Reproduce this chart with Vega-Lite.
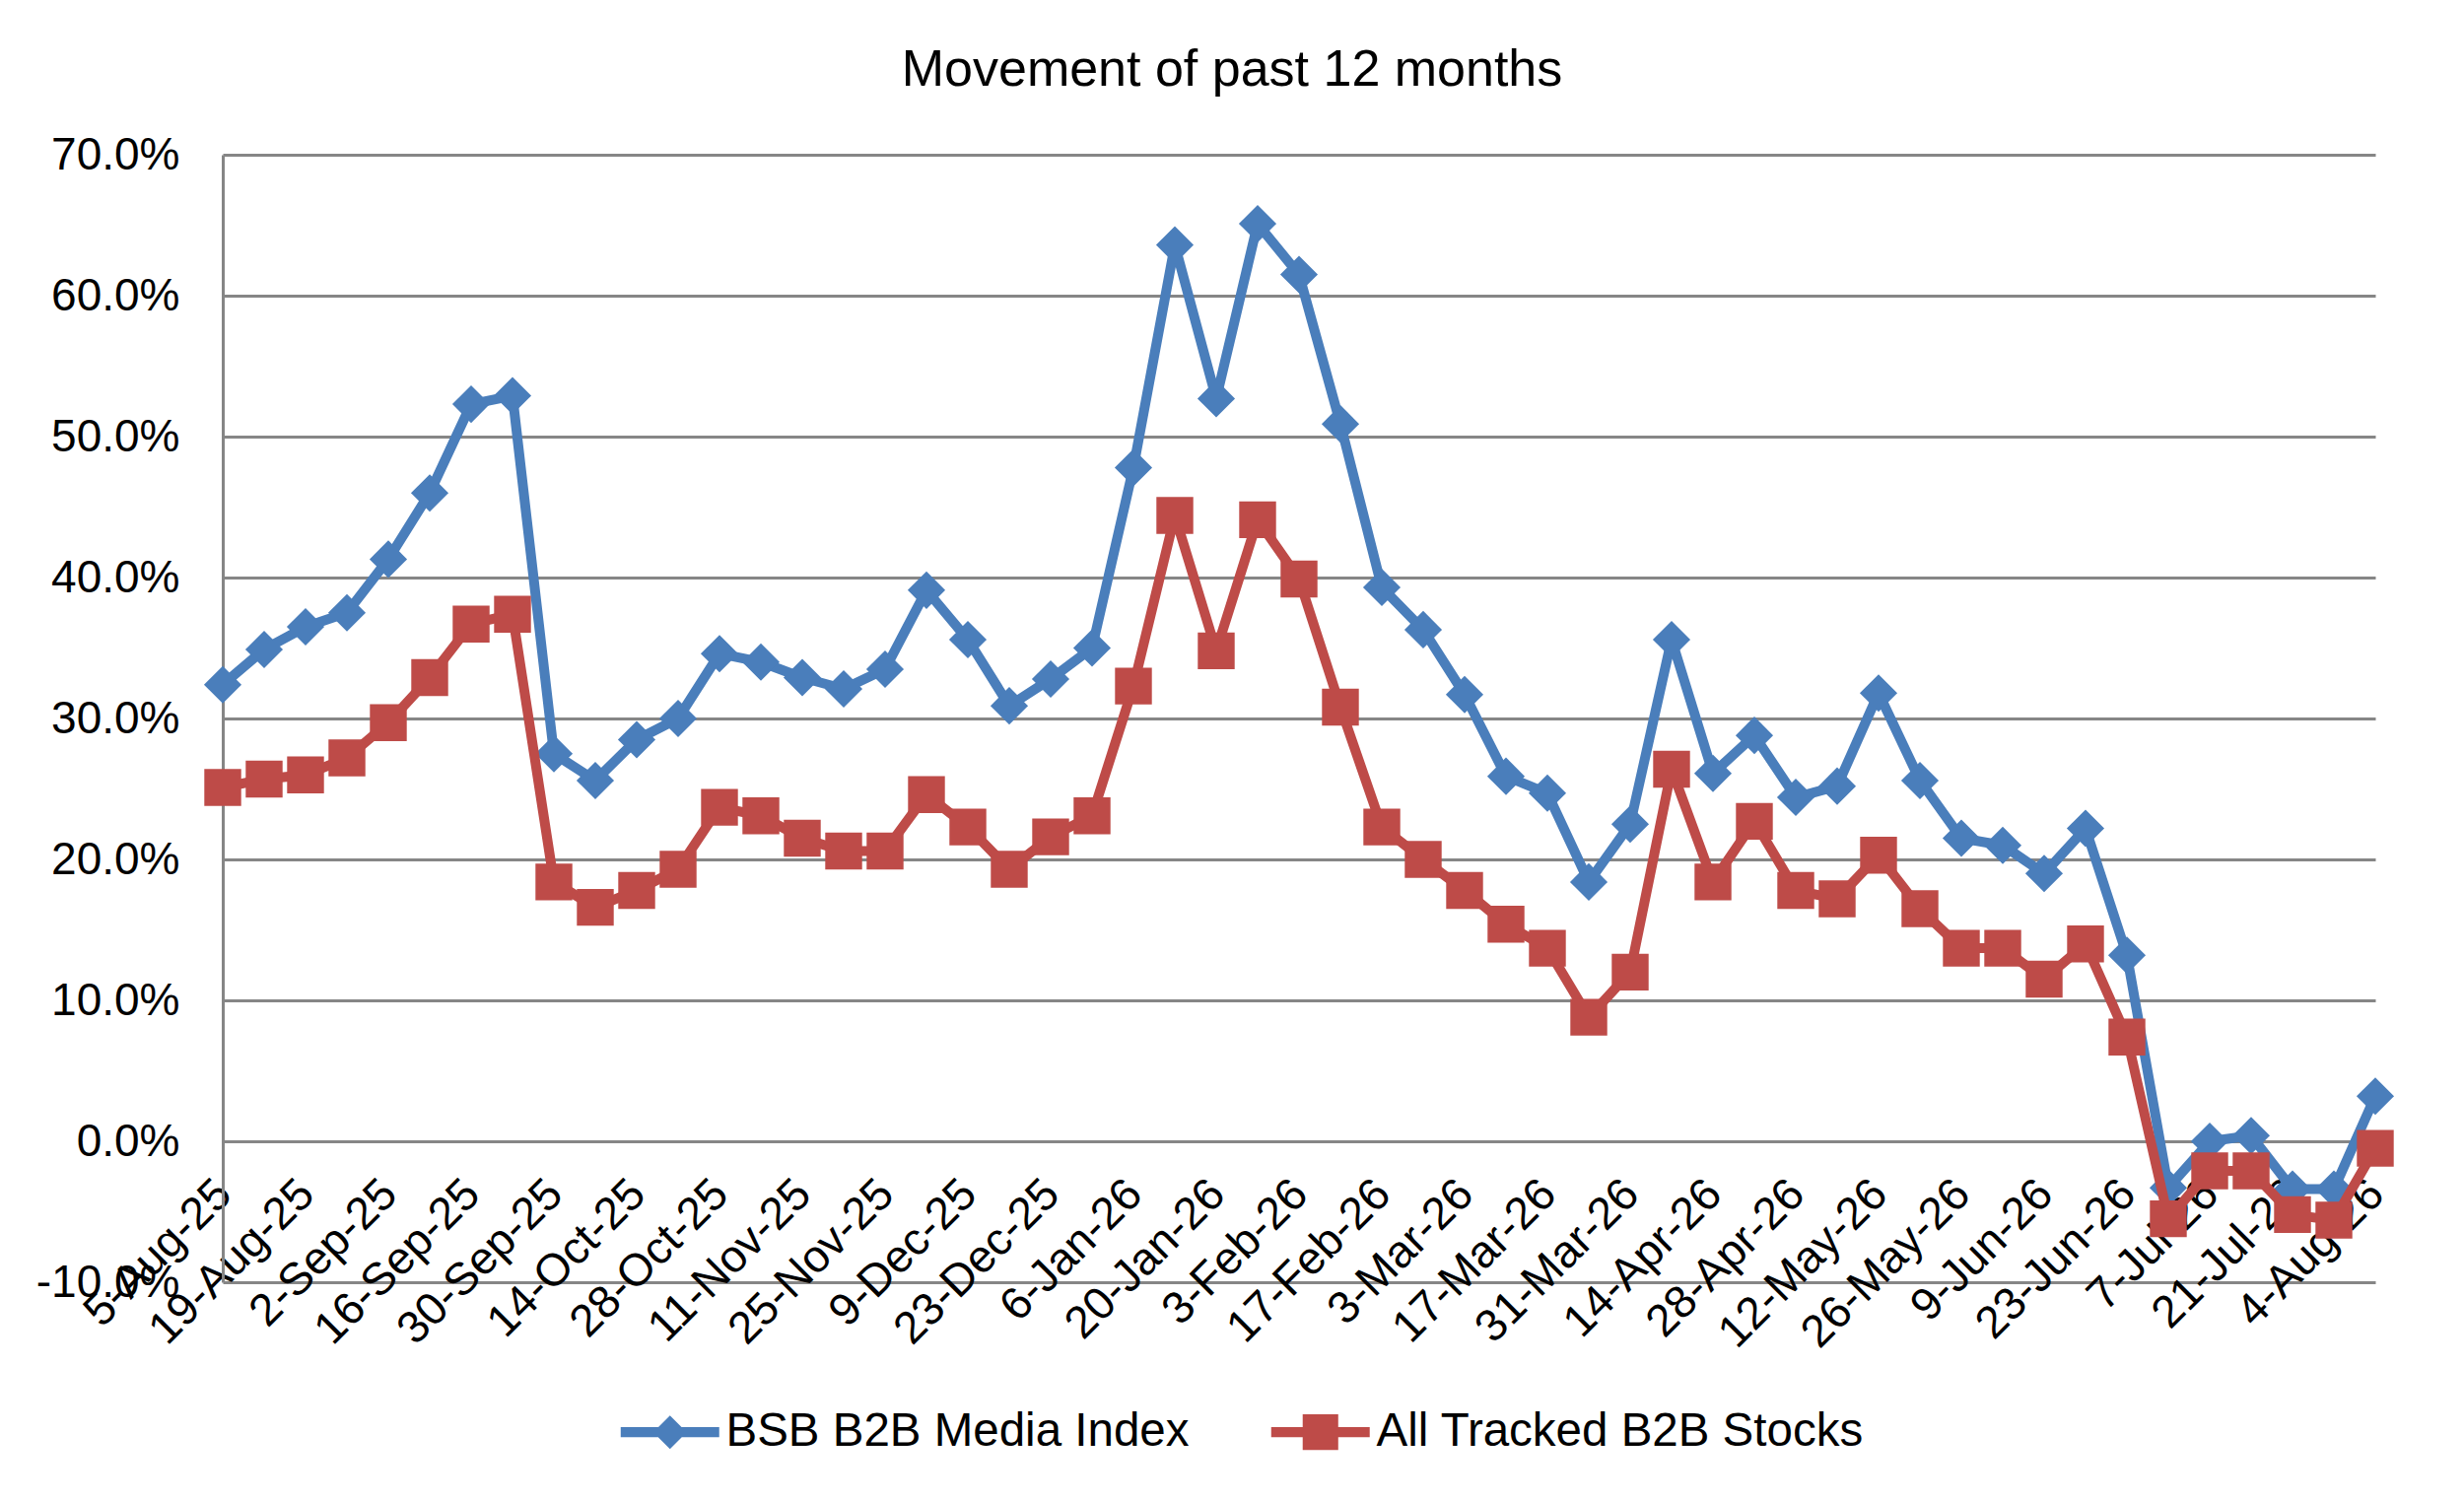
{
  "$schema": "https://vega.github.io/schema/vega-lite/v6.json",
  "width": 2184,
  "height": 1144,
  "autosize": "none",
  "padding": {"left": 226, "top": 157, "right": 90, "bottom": 223},
  "background": "white",
  "config": {
    "view": {"stroke": null},
    "font": "Liberation Sans",
    "text": {"font": "Liberation Sans"}
  },
  "title": {
    "text": "Movement of past 12 months",
    "font": "Liberation Sans",
    "fontSize": 52,
    "fontWeight": "normal",
    "color": "#000000",
    "anchor": "middle",
    "frame": "group",
    "baseline": "alphabetic",
    "offset": 47,
    "dx": -68,
    "dy": 52
  },
  "data": {
    "values": [
      {"date": "5-Aug-25", "BSB B2B Media Index": 0.324, "All Tracked B2B Stocks": 0.251},
      {"date": "12-Aug-25", "BSB B2B Media Index": 0.349, "All Tracked B2B Stocks": 0.257},
      {"date": "19-Aug-25", "BSB B2B Media Index": 0.365, "All Tracked B2B Stocks": 0.260},
      {"date": "26-Aug-25", "BSB B2B Media Index": 0.375, "All Tracked B2B Stocks": 0.272},
      {"date": "2-Sep-25", "BSB B2B Media Index": 0.413, "All Tracked B2B Stocks": 0.297},
      {"date": "9-Sep-25", "BSB B2B Media Index": 0.460, "All Tracked B2B Stocks": 0.329},
      {"date": "16-Sep-25", "BSB B2B Media Index": 0.523, "All Tracked B2B Stocks": 0.367},
      {"date": "23-Sep-25", "BSB B2B Media Index": 0.529, "All Tracked B2B Stocks": 0.374},
      {"date": "30-Sep-25", "BSB B2B Media Index": 0.275, "All Tracked B2B Stocks": 0.184},
      {"date": "7-Oct-25", "BSB B2B Media Index": 0.256, "All Tracked B2B Stocks": 0.166},
      {"date": "14-Oct-25", "BSB B2B Media Index": 0.285, "All Tracked B2B Stocks": 0.178},
      {"date": "21-Oct-25", "BSB B2B Media Index": 0.300, "All Tracked B2B Stocks": 0.193},
      {"date": "28-Oct-25", "BSB B2B Media Index": 0.346, "All Tracked B2B Stocks": 0.237},
      {"date": "4-Nov-25", "BSB B2B Media Index": 0.340, "All Tracked B2B Stocks": 0.231},
      {"date": "11-Nov-25", "BSB B2B Media Index": 0.329, "All Tracked B2B Stocks": 0.215},
      {"date": "18-Nov-25", "BSB B2B Media Index": 0.321, "All Tracked B2B Stocks": 0.206},
      {"date": "25-Nov-25", "BSB B2B Media Index": 0.335, "All Tracked B2B Stocks": 0.206},
      {"date": "2-Dec-25", "BSB B2B Media Index": 0.391, "All Tracked B2B Stocks": 0.246},
      {"date": "9-Dec-25", "BSB B2B Media Index": 0.356, "All Tracked B2B Stocks": 0.223},
      {"date": "16-Dec-25", "BSB B2B Media Index": 0.309, "All Tracked B2B Stocks": 0.193},
      {"date": "23-Dec-25", "BSB B2B Media Index": 0.328, "All Tracked B2B Stocks": 0.216},
      {"date": "30-Dec-25", "BSB B2B Media Index": 0.350, "All Tracked B2B Stocks": 0.231},
      {"date": "6-Jan-26", "BSB B2B Media Index": 0.478, "All Tracked B2B Stocks": 0.323},
      {"date": "13-Jan-26", "BSB B2B Media Index": 0.636, "All Tracked B2B Stocks": 0.444},
      {"date": "20-Jan-26", "BSB B2B Media Index": 0.527, "All Tracked B2B Stocks": 0.348},
      {"date": "27-Jan-26", "BSB B2B Media Index": 0.651, "All Tracked B2B Stocks": 0.441},
      {"date": "3-Feb-26", "BSB B2B Media Index": 0.615, "All Tracked B2B Stocks": 0.399},
      {"date": "10-Feb-26", "BSB B2B Media Index": 0.509, "All Tracked B2B Stocks": 0.308},
      {"date": "17-Feb-26", "BSB B2B Media Index": 0.393, "All Tracked B2B Stocks": 0.223},
      {"date": "24-Feb-26", "BSB B2B Media Index": 0.363, "All Tracked B2B Stocks": 0.200},
      {"date": "3-Mar-26", "BSB B2B Media Index": 0.317, "All Tracked B2B Stocks": 0.178},
      {"date": "10-Mar-26", "BSB B2B Media Index": 0.259, "All Tracked B2B Stocks": 0.154},
      {"date": "17-Mar-26", "BSB B2B Media Index": 0.247, "All Tracked B2B Stocks": 0.137},
      {"date": "24-Mar-26", "BSB B2B Media Index": 0.184, "All Tracked B2B Stocks": 0.088},
      {"date": "31-Mar-26", "BSB B2B Media Index": 0.225, "All Tracked B2B Stocks": 0.120},
      {"date": "7-Apr-26", "BSB B2B Media Index": 0.356, "All Tracked B2B Stocks": 0.264},
      {"date": "14-Apr-26", "BSB B2B Media Index": 0.261, "All Tracked B2B Stocks": 0.184},
      {"date": "21-Apr-26", "BSB B2B Media Index": 0.288, "All Tracked B2B Stocks": 0.227},
      {"date": "28-Apr-26", "BSB B2B Media Index": 0.244, "All Tracked B2B Stocks": 0.178},
      {"date": "5-May-26", "BSB B2B Media Index": 0.252, "All Tracked B2B Stocks": 0.172},
      {"date": "12-May-26", "BSB B2B Media Index": 0.318, "All Tracked B2B Stocks": 0.203},
      {"date": "19-May-26", "BSB B2B Media Index": 0.256, "All Tracked B2B Stocks": 0.165},
      {"date": "26-May-26", "BSB B2B Media Index": 0.215, "All Tracked B2B Stocks": 0.137},
      {"date": "2-Jun-26", "BSB B2B Media Index": 0.210, "All Tracked B2B Stocks": 0.137},
      {"date": "9-Jun-26", "BSB B2B Media Index": 0.190, "All Tracked B2B Stocks": 0.115},
      {"date": "16-Jun-26", "BSB B2B Media Index": 0.222, "All Tracked B2B Stocks": 0.140},
      {"date": "23-Jun-26", "BSB B2B Media Index": 0.132, "All Tracked B2B Stocks": 0.074},
      {"date": "30-Jun-26", "BSB B2B Media Index": -0.033, "All Tracked B2B Stocks": -0.055},
      {"date": "7-Jul-26", "BSB B2B Media Index": 0.000, "All Tracked B2B Stocks": -0.021},
      {"date": "14-Jul-26", "BSB B2B Media Index": 0.004, "All Tracked B2B Stocks": -0.021},
      {"date": "21-Jul-26", "BSB B2B Media Index": -0.034, "All Tracked B2B Stocks": -0.052},
      {"date": "28-Jul-26", "BSB B2B Media Index": -0.034, "All Tracked B2B Stocks": -0.056},
      {"date": "4-Aug-26", "BSB B2B Media Index": 0.032, "All Tracked B2B Stocks": -0.005}
    ]
  },
  "transform": [
    {"fold": ["BSB B2B Media Index", "All Tracked B2B Stocks"], "as": ["series", "value"]}
  ],
  "encoding": {
    "x": {
      "field": "date",
      "type": "ordinal",
      "scale": {
        "type": "point",
        "padding": 0,
        "domain": ["5-Aug-25","12-Aug-25","19-Aug-25","26-Aug-25","2-Sep-25","9-Sep-25","16-Sep-25","23-Sep-25","30-Sep-25","7-Oct-25","14-Oct-25","21-Oct-25","28-Oct-25","4-Nov-25","11-Nov-25","18-Nov-25","25-Nov-25","2-Dec-25","9-Dec-25","16-Dec-25","23-Dec-25","30-Dec-25","6-Jan-26","13-Jan-26","20-Jan-26","27-Jan-26","3-Feb-26","10-Feb-26","17-Feb-26","24-Feb-26","3-Mar-26","10-Mar-26","17-Mar-26","24-Mar-26","31-Mar-26","7-Apr-26","14-Apr-26","21-Apr-26","28-Apr-26","5-May-26","12-May-26","19-May-26","26-May-26","2-Jun-26","9-Jun-26","16-Jun-26","23-Jun-26","30-Jun-26","7-Jul-26","14-Jul-26","21-Jul-26","28-Jul-26","4-Aug-26"]
      },
      "axis": {
        "title": null,
        "values": ["5-Aug-25","19-Aug-25","2-Sep-25","16-Sep-25","30-Sep-25","14-Oct-25","28-Oct-25","11-Nov-25","25-Nov-25","9-Dec-25","23-Dec-25","6-Jan-26","20-Jan-26","3-Feb-26","17-Feb-26","3-Mar-26","17-Mar-26","31-Mar-26","14-Apr-26","28-Apr-26","12-May-26","26-May-26","9-Jun-26","23-Jun-26","7-Jul-26","21-Jul-26","4-Aug-26"],
        "offset": -143,
        "domain": false,
        "ticks": false,
        "grid": false,
        "labelAngle": -45,
        "labelAlign": "right",
        "labelBaseline": "middle",
        "labelPadding": 46,
        "labelOffset": 1,
        "labelFont": "Liberation Sans",
        "labelFontSize": 46,
        "labelColor": "#000000",
        "labelOverlap": false,
        "labelBound": false,
        "labelFlush": false,
        "labelLimit": 1000
      }
    },
    "y": {
      "field": "value",
      "type": "quantitative",
      "scale": {"domain": [-0.1, 0.7], "nice": false, "zero": false},
      "axis": {
        "title": null,
        "values": [-0.1, 0, 0.1, 0.2, 0.3, 0.4, 0.5, 0.6, 0.7],
        "format": ".1%",
        "labelExpr": "replace(datum.label, '\u2212', '-')",
        "domain": true,
        "domainColor": "#868686",
        "domainWidth": 3,
        "ticks": false,
        "grid": true,
        "gridColor": "#868686",
        "gridWidth": 3,
        "labelPadding": 44,
        "labelFont": "Liberation Sans",
        "labelFontSize": 46,
        "labelColor": "#000000"
      }
    }
  },
  "layer": [
    {
      "transform": [{"filter": {"field": "series", "equal": "BSB B2B Media Index"}}],
      "mark": {"type": "line", "strokeWidth": 10, "strokeJoin": "round", "strokeCap": "round"},
      "encoding": {
        "stroke": {"field": "series", "type": "nominal", "scale": {"domain": ["All Tracked B2B Stocks", "BSB B2B Media Index"], "range": ["#BE4B48", "#4A7EBB"]}, "legend": null}
      }
    },
    {
      "transform": [{"filter": {"field": "series", "equal": "BSB B2B Media Index"}}],
      "mark": {"type": "point", "shape": "diamond", "filled": true, "size": 1450, "opacity": 1},
      "encoding": {
        "fill": {"field": "series", "type": "nominal", "scale": {"domain": ["All Tracked B2B Stocks", "BSB B2B Media Index"], "range": ["#BE4B48", "#4A7EBB"]}, "legend": null}
      }
    },
    {
      "transform": [{"filter": {"field": "series", "equal": "All Tracked B2B Stocks"}}],
      "mark": {"type": "line", "strokeWidth": 10, "strokeJoin": "round", "strokeCap": "round"},
      "encoding": {
        "stroke": {"field": "series", "type": "nominal", "legend": null}
      }
    },
    {
      "transform": [{"filter": {"field": "series", "equal": "All Tracked B2B Stocks"}}],
      "mark": {"type": "point", "shape": "square", "filled": true, "size": 1400, "opacity": 1},
      "encoding": {
        "fill": {"field": "series", "type": "nominal", "legend": null}
      }
    },
    {
      "mark": {"type": "point", "filled": true, "opacity": 0},
      "encoding": {
        "color": {
          "field": "series",
          "type": "nominal",
          "scale": {"domain": ["BSB B2B Media Index", "All Tracked B2B Stocks"], "range": ["#4A7EBB", "#BE4B48"]},
          "legend": {
            "title": null,
            "orient": "none",
            "legendX": 430,
            "legendY": 1272,
            "direction": "horizontal",
            "padding": 0,
            "symbolSize": 1156,
            "symbolOpacity": 1,
            "symbolStrokeWidth": 0,
            "labelFont": "Liberation Sans",
            "labelFontSize": 47.5,
            "labelColor": "#000000",
            "labelLimit": 1000,
            "labelOffset": 33,
            "columnPadding": 82
          }
        },
        "shape": {
          "field": "series",
          "type": "nominal",
          "scale": {
            "domain": ["BSB B2B Media Index", "All Tracked B2B Stocks"],
            "range": [
              "M-2.94,-0.3L2.94,-0.3L2.94,0.3L-2.94,0.3Z M0,-1L1,0L0,1L-1,0Z",
              "M-2.94,-0.3L2.94,-0.3L2.94,0.3L-2.94,0.3Z M-1.06,-1.06L1.06,-1.06L1.06,1.06L-1.06,1.06Z"
            ]
          },
          "legend": {
            "title": null,
            "orient": "none",
            "legendX": 430,
            "legendY": 1272,
            "direction": "horizontal",
            "padding": 0,
            "symbolSize": 1156,
            "symbolOpacity": 1,
            "symbolStrokeWidth": 0,
            "labelFont": "Liberation Sans",
            "labelFontSize": 47.5,
            "labelColor": "#000000",
            "labelLimit": 1000,
            "labelOffset": 33,
            "columnPadding": 82
          }
        }
      }
    }
  ]
}
